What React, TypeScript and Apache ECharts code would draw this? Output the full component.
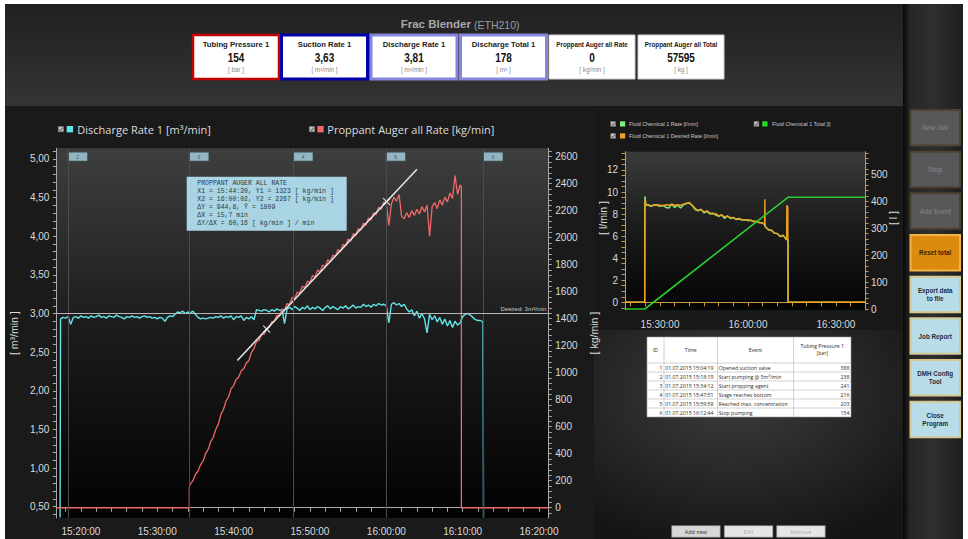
import React, { useEffect, useRef } from "react";
import * as echarts from "echarts";

// ---------------- helpers ----------------
const hms = (s: string): number => {
  const p = s.split(":").map(Number);
  return p[0] * 3600 + p[1] * 60 + (p[2] || 0);
};
const pad2 = (n: number) => (n < 10 ? "0" : "") + n;
const fmtHMS = (v: number) => {
  const t = Math.round(v);
  return pad2(Math.floor(t / 3600)) + ":" + pad2(Math.floor((t % 3600) / 60)) + ":" + pad2(t % 60);
};
const steps = (a: number, b: number, s: number) => {
  const out: number[] = [];
  for (let v = a; v <= b + 1e-9; v += s) out.push(Math.round(v * 1000) / 1000);
  return out;
};

// ---------------- data: main chart ----------------
const mainTimeRange = ["15:16:47", "16:21:13"];
const mainTimeLabels = ["15:20:00", "15:30:00", "15:40:00", "15:50:00", "16:00:00", "16:10:00", "16:20:00"];
const leftAxisRange = [0.354, 5.138];
const leftAxisLabels = [0.5, 1, 1.5, 2, 2.5, 3, 3.5, 4, 4.5, 5];
const rightAxisRange = [-76, 2662];
const rightAxisLabels = [0, 200, 400, 600, 800, 1000, 1200, 1400, 1600, 1800, 2000, 2200, 2400, 2600];

const stageLabels = ["2", "3", "4", "5", "6"];
const stageTimes = ["15:18:19", "15:34:12", "15:47:51", "15:59:58", "16:12:44"];

const sampleStepSec = 20;
const cyanStart = "15:17:20";
const cyanLead: [string, number][] = [["15:17:16", 0.36]];
const cyanValues = [
  2.93, 2.95,
  2.94, 2.96, 2.86, 2.95, 2.96, 2.94, 2.97, 2.95, 2.96, 2.94, 2.97, 2.95,
  2.96, 2.98, 2.95, 2.96, 2.94, 2.97, 2.96, 2.95, 2.98, 2.96, 2.95, 2.93,
  2.96, 2.95, 2.97, 2.95, 2.96, 2.94, 2.96, 2.97, 2.95, 2.96, 2.94, 2.95,
  2.93, 2.95, 2.94, 2.90, 2.95, 2.97, 2.96, 2.99, 3.02, 3.01, 3.03, 3.00,
  3.02, 3.01, 3.03, 2.99, 2.95, 2.93, 2.94, 2.93, 2.94, 2.95, 2.94, 2.96,
  2.95, 2.97, 2.94, 2.96, 2.95, 2.97, 2.92, 2.96, 2.95, 2.97, 2.91, 2.95,
  2.93, 2.96, 2.92, 3.05, 3.04, 3.03, 3.05, 3.04, 3.02, 3.05, 3.03, 3.06,
  3.04, 3.05, 2.87, 3.06, 3.08, 3.05, 3.09, 3.07, 3.04, 3.08, 3.06, 3.10,
  3.05, 3.08, 3.06, 3.09, 3.07, 3.04, 3.08, 3.10, 3.06, 3.09, 3.07, 3.05,
  3.09, 3.07, 3.10, 3.06, 3.08, 3.11, 3.07, 3.09, 3.08, 3.12, 3.09, 3.11,
  3.08, 3.12, 3.10, 3.13, 3.11, 3.12, 3.10, 2.88, 3.12, 3.14, 3.11, 3.13,
  3.09, 3.12, 3.06, 3.02, 3.05, 2.97, 3.03, 2.94, 3.00, 2.93, 2.75, 2.99,
  2.92, 2.97, 2.89, 2.95, 2.86, 2.93, 2.84, 2.91, 2.82, 2.90, 2.85, 2.88,
  2.96, 2.99, 3.00, 2.98, 2.95, 2.92, 2.91, 2.91, 2.89,
];
const cyanTail: [string, number][] = [["16:12:44", 0.36]];

const redLead: [string, number][] = [["15:16:47", 0], ["15:34:12", 0], ["15:34:12", 155]];
const redStart = "15:34:20";
const redValues = [
  175, 200, 248, 270, 318, 345, 402, 432, 490, 522,
  580, 620, 690, 728, 790, 820, 880, 905, 950, 968,
  1015, 1030, 1072, 1090, 1150, 1180, 1232, 1240, 1282, 1285,
  1325, 1336, 1378, 1380, 1425, 1422, 1470, 1465, 1512, 1505,
  1558, 1548, 1596, 1590, 1640, 1630, 1678, 1668, 1720, 1708,
  1760, 1748, 1798, 1785, 1836, 1822, 1872, 1860, 1912, 1898,
  1950, 1940, 1990, 1975, 2030, 2016, 2068, 2055, 2108, 2094,
  2146, 2132, 2185, 2172, 2225, 2210, 2262, 2255, 2090, 2250,
  2300, 2270, 2320, 2160, 2140, 2185, 2150, 2200, 2165, 2210,
  2175, 2230, 2190, 2240, 2010, 2230, 2260, 2215, 2280, 2240,
  2300, 2265, 2330, 2290, 2460, 2320, 2390,
];
const redTail: [string, number][] = [["16:09:50", 2380], ["16:09:50", 0], ["16:21:13", 0]];

const fitTimes = ["15:40:29", "16:04:01"];
const fitValues = [1091, 2507];
const cursorTimes = ["15:44:20", "16:00:02"];
const cursorValues = [1323, 2267];
const desiredRate = 3.0;

const annotationLines = [
  "PROPPANT AUGER ALL RATE",
  "X1 = 15:44:20, Y1 = 1323 [ kg/min ]",
  "X2 = 16:00:02, Y2 = 2267 [ kg/min ]",
  "\u0394Y = 944,8, \u0232 = 1809",
  "\u0394X = 15,7 min",
  "\u0394Y/\u0394X = 60,16 [ kg/min ] / min",
];

// ---------------- data: right chart ----------------
const rcTimeRange = ["15:18:03", "16:39:54"];
const rcTimeLabels = ["15:30:00", "16:00:00", "16:30:00"];
const rcLeftRange = [-0.7, 13.66];
const rcLeftLabels = [0, 2, 4, 6, 8, 10, 12];
const rcRightRange = [-3.7, 584];
const rcRightLabels = [0, 100, 200, 300, 400, 500];

const rcRateData: [string, number][] = [
  ["15:18:03", 0], ["15:24:46", 0], ["15:24:47", 2.6], ["15:24:50", 2.6], ["15:24:51", 9.6], ["15:25:10", 8.9],
  ["15:26:00", 8.8], ["15:27:00", 8.7], ["15:28:00", 8.85], ["15:29:00", 8.8], ["15:30:00", 8.7], ["15:31:00", 8.8],
  ["15:32:00", 8.6], ["15:33:00", 8.55], ["15:34:00", 8.9], ["15:35:00", 8.6], ["15:36:00", 8.8], ["15:37:00", 8.55],
  ["15:38:00", 8.85], ["15:39:00", 8.95], ["15:40:00", 9.0], ["15:41:00", 8.75], ["15:42:00", 8.4], ["15:43:00", 8.3],
  ["15:44:00", 8.45], ["15:45:00", 8.1], ["15:46:00", 8.25], ["15:47:00", 8.0], ["15:48:00", 8.1], ["15:49:00", 7.9],
  ["15:50:00", 7.8], ["15:51:00", 7.95], ["15:52:00", 7.6], ["15:53:00", 7.85], ["15:54:00", 7.6], ["15:55:00", 7.7],
  ["15:56:00", 7.5], ["15:57:00", 7.55], ["15:58:00", 7.45], ["15:59:00", 7.5], ["16:00:00", 7.4], ["16:01:00", 7.45],
  ["16:02:00", 7.3], ["16:03:00", 7.35], ["16:04:00", 7.2], ["16:05:00", 7.2], ["16:05:40", 7.05], ["16:05:50", 6.9],
  ["16:06:00", 6.85], ["16:07:00", 6.55], ["16:08:00", 6.55], ["16:09:00", 6.25], ["16:10:00", 6.25], ["16:11:00", 5.95],
  ["16:12:00", 6.1], ["16:12:50", 5.75], ["16:13:00", 5.7], ["16:13:40", 5.7], ["16:13:41", 0], ["16:39:54", 0],
];
const rcDesiredData: [string, number][] = [
  ["15:18:03", 0], ["15:24:46", 0], ["15:24:47", 2.7], ["15:24:50", 2.7], ["15:24:51", 9.3], ["15:25:10", 8.8],
  ["15:26:00", 8.85], ["15:27:00", 8.75], ["15:28:00", 8.8], ["15:29:00", 8.85], ["15:30:00", 8.8], ["15:31:00", 8.75],
  ["15:32:00", 8.85], ["15:33:00", 8.8], ["15:34:00", 8.9], ["15:35:00", 8.8], ["15:36:00", 8.85], ["15:37:00", 8.8],
  ["15:38:00", 8.9], ["15:39:00", 9.0], ["15:40:00", 9.05], ["15:41:00", 8.8], ["15:42:00", 8.5], ["15:43:00", 8.35],
  ["15:44:00", 8.4], ["15:45:00", 8.2], ["15:46:00", 8.3], ["15:47:00", 8.1], ["15:48:00", 8.0], ["15:49:00", 8.05],
  ["15:50:00", 7.85], ["15:51:00", 7.9], ["15:52:00", 7.75], ["15:53:00", 7.8], ["15:54:00", 7.7], ["15:55:00", 7.65],
  ["15:56:00", 7.55], ["15:57:00", 7.6], ["15:58:00", 7.5], ["15:59:00", 7.45], ["16:00:00", 7.5], ["16:01:00", 7.4],
  ["16:02:00", 7.35], ["16:03:00", 7.3], ["16:04:00", 7.25], ["16:05:00", 7.15], ["16:05:40", 7.1], ["16:05:45", 9.35],
  ["16:05:50", 7.0], ["16:06:00", 6.8], ["16:07:00", 6.6], ["16:08:00", 6.5], ["16:09:00", 6.3], ["16:10:00", 6.2],
  ["16:11:00", 6.0], ["16:12:00", 6.05], ["16:12:50", 5.8], ["16:13:10", 5.7], ["16:13:15", 8.8], ["16:13:35", 8.6],
  ["16:13:40", 0], ["16:39:54", 0],
];
const rcTotalData: [string, number][] = [
  ["15:18:03", 0], ["15:24:50", 0], ["16:00:40", 305], ["16:13:45", 415], ["16:39:54", 415],
];

// ---------------- data: header, table, buttons ----------------
const headerLabels = ["Tubing Pressure 1", "Suction Rate 1", "Discharge Rate 1", "Discharge Total 1", "Proppant Auger all Rate", "Proppant Auger all Total"];
const headerValues = ["154", "3,63", "3,81", "178", "0", "57595"];
const headerUnits = ["[ bar ]", "[ m\u00b3/min ]", "[ m\u00b3/min ]", "[ m\u00b3 ]", "[ kg/min ]", "[ kg ]"];

const eventIds = [1, 2, 3, 4, 5, 6];
const eventTimes = ["01.07.2015 15:04:19", "01.07.2015 15:18:19", "01.07.2015 15:34:12", "01.07.2015 15:47:51", "01.07.2015 15:59:58", "01.07.2015 16:12:44"];
const eventNames = ["Opened suction valve", "Start pumping @ 3m\u00b3/min", "Start propping agent", "Stage reaches bottom", "Reached max. concentration", "Stop pumping"];
const eventPressures = [388, 238, 241, 216, 203, 154];

const sideButtons = ["New Job", "Stop", "Add Event", "Reset total", "Export data\nto file", "Job Report", "DMH Config\nTool", "Close\nProgram"];
const tableButtons = ["Add new", "Edit", "Remove"];

// ---------------- styling ----------------
const FONT = "'Liberation Sans', Arial, sans-serif";
const UIFONT = "'Open Sans', 'Liberation Sans', sans-serif";
const MONO = "'Liberation Mono', 'DejaVu Sans Mono', monospace";

const rect = (x: number, y: number, w: number, h: number, style: any, z = 0, r = 0) => ({
  type: "rect", silent: true, z, shape: { x, y, width: w, height: h, r }, style,
});
const text = (x: number, y: number, t: string, o: any = {}) => ({
  type: "text", silent: true, z: o.z ?? 20, x, y,
  scaleX: o.scaleX ?? 1, rotation: o.rotation ?? 0,
  style: {
    text: t, fill: o.fill ?? "#ddd", fontSize: o.size ?? 10, fontFamily: o.family ?? FONT,
    fontWeight: o.weight ?? "normal", align: o.align ?? "left", verticalAlign: o.va ?? "middle",
    textAlign: o.align ?? "left", textVerticalAlign: o.va ?? "middle", lineHeight: o.lh,
  },
});

function buildOption() {
  const G: any[] = [];
  // backgrounds
  G.push(rect(5, 4, 958, 535, { fill: "#1b1b1b" }, -20));
  G.push(rect(5, 4, 898, 102, { fill: new echarts.graphic.LinearGradient(0, 0, 0, 1, [{ offset: 0, color: "#202020" }, { offset: 1, color: "#343434" }]) }, -19));
  G.push(rect(5, 106, 588, 433, { fill: "#1a1a1a" }, -19));
  G.push(rect(594, 106, 308, 224, { fill: "#181818" }, -19));
  G.push(rect(594, 330, 308, 209, { fill: new echarts.graphic.RadialGradient(0.45, 0.3, 0.75, [{ offset: 0, color: "#3d3d3d" }, { offset: 1, color: "#151515" }]) }, -19));
  G.push(rect(903, 4, 60, 535, { fill: new echarts.graphic.LinearGradient(0, 0, 1, 0, [{ offset: 0, color: "#080808" }, { offset: 0.12, color: "#262626" }, { offset: 0.5, color: "#2f2f2f" }, { offset: 1, color: "#1e1e1e" }]) }, -19));

  // title
  G.push(text(471, 24, "Frac Blender", { size: 11.5, weight: "bold", fill: "#a8a8a8", align: "right" }));
  G.push(text(474, 24.5, "(ETH210)", { size: 10.5, fill: "#9c9c9c" }));

  // header boxes
  const bx = [193, 281.5, 371, 460.5, 549, 638];
  const bStroke = ["#c40000", "#0000a8", "#8585dc", "#8585dc", "#cfcfcf", "#cfcfcf"];
  const bLw = [2.5, 3, 3, 3, 1, 1];
  headerLabels.forEach((lab, i) => {
    const x = bx[i];
    G.push(rect(x, 35, 86, 44, { fill: "#ffffff", stroke: bStroke[i], lineWidth: bLw[i] }, 5));
    const small = i >= 4;
    G.push(text(x + 43, 44.5, lab, { size: small ? 6.3 : 7.7, weight: "bold", fill: "#1a1a1a", align: "center" }));
    G.push(text(x + 43, 57.5, headerValues[i], { size: 12.5, weight: "bold", fill: "#111", align: "center", scaleX: 0.8 }));
    G.push(text(x + 43, 69, headerUnits[i], { size: 6.3, fill: "#8a8a8a", align: "center" }));
  });

  // main legend
  const check = (x: number, y: number, s: number) => {
    G.push(rect(x, y, s, s, { fill: "#c4c4c4", stroke: "#7a7a7a", lineWidth: 0.6 }, 5));
    G.push({ type: "polyline", silent: true, z: 6, shape: { points: [[x + s * 0.2, y + s * 0.55], [x + s * 0.45, y + s * 0.8], [x + s * 0.85, y + s * 0.2]] }, style: { stroke: "#333", lineWidth: 0.8, fill: "none" } });
  };
  check(58.3, 126.5, 5.2);
  G.push(rect(66.7, 126, 6.4, 6.4, { fill: "#60e4e8" }, 5));
  G.push(text(77.3, 129, "Discharge Rate 1 [m\u00b3/min]", { size: 11, family: UIFONT, fill: "#dcdcdc" }));
  check(309.3, 126.5, 5.2);
  G.push(rect(317.3, 126, 6.4, 6.4, { fill: "#f06868" }, 5));
  G.push(text(327.3, 129, "Proppant Auger all Rate [kg/min]", { size: 11, family: UIFONT, fill: "#dcdcdc" }));

  // annotation box
  G.push(rect(186.7, 176.7, 160, 54, { fill: "#a9d4e4" }, 30));
  G.push(text(197.3, 179.3, annotationLines.join("\n"), { size: 6.5, family: MONO, fill: "#2c3a42", va: "top", lh: 8, z: 31 }));

  // right chart legend
  check(610.7, 121.5, 4.8);
  G.push(rect(620, 121.3, 5.2, 5.2, { fill: "#7ef07e" }, 5));
  G.push(text(629, 124, "Fluid Chemical 1 Rate [l/min]", { size: 5.4, fill: "#c8c8c8" }));
  check(754, 121.5, 4.8);
  G.push(rect(762.3, 121.3, 5.2, 5.2, { fill: "#22dd22" }, 5));
  G.push(text(772, 124, "Fluid Chemical 1 Total [l]", { size: 5.4, fill: "#c8c8c8" }));
  check(610.7, 133.5, 4.8);
  G.push(rect(620, 133.3, 5.2, 5.2, { fill: "#f0a020" }, 5));
  G.push(text(629, 136, "Fluid Chemical 1 Desired Rate [l/min]", { size: 5.4, fill: "#c8c8c8" }));
  G.push(text(603.3, 218, "[ l/min ]", { size: 10.5, fill: "#dcdcdc", align: "center", rotation: Math.PI / 2 }));
  G.push(text(893, 218, "[ l ]", { size: 10.5, fill: "#dcdcdc", align: "center", rotation: Math.PI / 2 }));

  // table
  const cols = [647, 664, 717.5, 793.5, 851];
  const tTop = 337, hdrBottom = 363, rowH = 9;
  const tBottom = hdrBottom + rowH * eventIds.length;
  G.push(rect(cols[0], tTop, cols[4] - cols[0], tBottom - tTop, { fill: "#ffffff", stroke: "#9a9a9a", lineWidth: 0.6 }, 5));
  cols.slice(1, 4).forEach((cx) => G.push({ type: "line", silent: true, z: 6, shape: { x1: cx, y1: tTop, x2: cx, y2: tBottom }, style: { stroke: "#b4b4b4", lineWidth: 0.6 } }));
  for (let r = 0; r < eventIds.length; r++) {
    const y = hdrBottom + rowH * r;
    G.push({ type: "line", silent: true, z: 6, shape: { x1: cols[0], y1: y, x2: cols[4], y2: y }, style: { stroke: "#b4b4b4", lineWidth: 0.6 } });
  }
  const tf = { size: 5.2, family: UIFONT, fill: "#2a2a2a" };
  G.push(text((cols[0] + cols[1]) / 2, 350, "ID", { ...tf, align: "center" }));
  G.push(text((cols[1] + cols[2]) / 2, 350, "Time", { ...tf, align: "center" }));
  G.push(text((cols[2] + cols[3]) / 2, 350, "Event", { ...tf, align: "center" }));
  G.push(text((cols[3] + cols[4]) / 2, 349.5, "Tubing Pressure 1\n[bar]", { ...tf, align: "center", lh: 6.5 }));
  eventIds.forEach((id, r) => {
    const cy = hdrBottom + rowH * r + 4.7;
    G.push(text(cols[1] - 1.5, cy, String(id), { ...tf, align: "right" }));
    G.push(text(cols[1] + 1.2, cy, eventTimes[r], tf));
    G.push(text(cols[2] + 1.2, cy, eventNames[r], tf));
    G.push(text(cols[4] - 1.5, cy, String(eventPressures[r]), { ...tf, align: "right" }));
  });
  // table buttons
  const tbx = [671.7, 724.3, 776.7];
  tableButtons.forEach((b, i) => {
    G.push(rect(tbx[i], 525.7, 48.5, 11.5, { fill: i === 0 ? "#d6d6d6" : "#e6e6e6", stroke: "#8e8e8e", lineWidth: 0.6 }, 5));
    G.push(text(tbx[i] + 24.25, 531.5, b, { size: 5.5, family: UIFONT, fill: i === 0 ? "#333" : "#ababab", align: "center" }));
  });

  // side buttons
  const sTops = [110, 151.7, 193.3, 235, 276.7, 318.3, 360, 401.7];
  sideButtons.forEach((b, i) => {
    const kind = i < 3 ? "off" : i === 3 ? "orange" : "blue";
    const fill = kind === "off" ? "#585858" : kind === "orange" ? "#db8b0e" : "#b9dce9";
    const stroke = kind === "off" ? "#4d4130" : kind === "orange" ? "#f2b347" : "#d6c891";
    const tc = kind === "off" ? "#7c7c7c" : kind === "orange" ? "#3a2200" : "#1e2c3c";
    G.push(rect(910.5, sTops[i], 49.5, 35.5, { fill, stroke, lineWidth: 2 }, 5));
    G.push(text(935.2, sTops[i] + 17.8, b, { size: 6.3, weight: "bold", fill: tc, align: "center", lh: 8 }));
  });

  const axisCol = "#a9a9a9";
  const rcAxisCol = "#c89a48";
  const lbl = { color: "#dadada", fontSize: 10, fontFamily: FONT };
  const plain = (v: number) => String(v);

  const cyanData = [
    ...cyanLead.map(([t, v]) => [hms(t), v]),
    ...cyanValues.map((v, i) => [hms(cyanStart) + i * sampleStepSec, v]),
    ...cyanTail.map(([t, v]) => [hms(t), v]),
  ];
  const redData = [
    ...redLead.map(([t, v]) => [hms(t), v]),
    ...redValues.map((v, i) => [hms(redStart) + i * sampleStepSec, v]),
    ...redTail.map(([t, v]) => [hms(t), v]),
  ];
  const conv = (arr: [string, number][]) => arr.map(([t, v]) => [hms(t), v]);

  const lineBase = { type: "line", showSymbol: false, symbol: "none", animation: false, silent: true };

  return {
    animation: false,
    backgroundColor: "#ffffff",
    grid: [
      {
        left: 52.7, top: 148.3, width: 495.6, height: 369.7, show: true, borderWidth: 0,
        backgroundColor: new echarts.graphic.LinearGradient(0, 0, 0, 1, [{ offset: 0, color: "#3e3e3e" }, { offset: 0.5, color: "#1b1b1b" }, { offset: 1, color: "#020202" }]),
      },
      {
        left: 625, top: 151.7, width: 240, height: 158.3, show: true, borderWidth: 0,
        backgroundColor: new echarts.graphic.LinearGradient(0, 0, 0, 1, [{ offset: 0, color: "#3a3a3a" }, { offset: 0.5, color: "#1a1a1a" }, { offset: 1, color: "#040404" }]),
      },
    ],
    xAxis: [
      {
        type: "value", gridIndex: 0, min: hms(mainTimeRange[0]), max: hms(mainTimeRange[1]),
        axisLine: { show: true, lineStyle: { color: axisCol } },
        axisTick: { show: true, customValues: steps(hms("15:18:00"), hms("16:20:00"), 120), length: 4, lineStyle: { color: axisCol } },
        axisLabel: { show: true, customValues: mainTimeLabels.map(hms), formatter: (v: number) => fmtHMS(v), margin: 8, ...lbl },
        splitLine: { show: false },
      },
      {
        type: "value", gridIndex: 1, min: hms(rcTimeRange[0]), max: hms(rcTimeRange[1]),
        axisLine: { show: true, lineStyle: { color: rcAxisCol } },
        axisTick: { show: true, customValues: steps(hms("15:20:00"), hms("16:35:00"), 300), length: 4, lineStyle: { color: rcAxisCol } },
        axisLabel: { show: true, customValues: rcTimeLabels.map(hms), formatter: (v: number) => fmtHMS(v), margin: 9, ...lbl },
        splitLine: { show: false },
      },
    ],
    yAxis: [
      {
        type: "value", gridIndex: 0, position: "left", min: leftAxisRange[0], max: leftAxisRange[1],
        axisLine: { show: true, lineStyle: { color: axisCol } },
        axisTick: { show: true, customValues: steps(0.4, 5.1, 0.1), length: 3.5, lineStyle: { color: axisCol } },
        axisLabel: { show: true, customValues: leftAxisLabels, formatter: (v: number) => v.toFixed(2).replace(".", ","), margin: 7, ...lbl },
        splitLine: { show: false },
        name: "[ m\u00b3/min ]", nameLocation: "middle", nameGap: 31, nameRotate: 90,
        nameTextStyle: { color: "#dcdcdc", fontSize: 10.5, fontFamily: FONT },
      },
      {
        type: "value", gridIndex: 0, position: "right", min: rightAxisRange[0], max: rightAxisRange[1],
        axisLine: { show: true, lineStyle: { color: axisCol } },
        axisTick: { show: true, customValues: steps(-40, 2640, 40), length: 3.5, lineStyle: { color: axisCol } },
        axisLabel: { show: true, customValues: rightAxisLabels, formatter: plain, margin: 7, ...lbl },
        splitLine: { show: false },
        name: "[ kg/min ]", nameLocation: "middle", nameGap: 38, nameRotate: 90,
        nameTextStyle: { color: "#dcdcdc", fontSize: 10.5, fontFamily: FONT },
      },
      {
        type: "value", gridIndex: 1, position: "left", min: rcLeftRange[0], max: rcLeftRange[1],
        axisLine: { show: true, lineStyle: { color: rcAxisCol } },
        axisTick: { show: true, customValues: steps(-0.5, 13.5, 0.5), length: 3.5, lineStyle: { color: rcAxisCol } },
        axisLabel: { show: true, customValues: rcLeftLabels, formatter: plain, margin: 7, ...lbl },
        splitLine: { show: false },
      },
      {
        type: "value", gridIndex: 1, position: "right", min: rcRightRange[0], max: rcRightRange[1],
        axisLine: { show: true, lineStyle: { color: rcAxisCol } },
        axisTick: { show: true, customValues: steps(0, 580, 20), length: 3.5, lineStyle: { color: rcAxisCol } },
        axisLabel: { show: true, customValues: rcRightLabels, formatter: plain, margin: 6, ...lbl },
        splitLine: { show: false },
      },
    ],
    series: [
      {
        type: "scatter", xAxisIndex: 0, yAxisIndex: 0, z: 1, silent: true, clip: false, animation: false,
        data: stageTimes.map((t, i) => ({ value: [hms(t), leftAxisRange[1]], name: stageLabels[i] })),
        symbol: "rect", symbolSize: [19, 8], symbolOffset: [9.5, 8.4],
        itemStyle: { color: "#a9d4e4", borderColor: "#7fb0c4", borderWidth: 0.5 },
        label: { show: true, position: "inside", formatter: "{b}", fontSize: 5, color: "#2a3a44", fontFamily: FONT },
        markLine: {
          silent: true, animation: false, symbol: ["none", "none"], label: { show: false },
          lineStyle: { color: "#4c4c4c", width: 1, type: "solid" },
          data: stageTimes.map((t) => ({ xAxis: hms(t) })),
        },
      },
      {
        ...lineBase, name: "Discharge Rate 1", xAxisIndex: 0, yAxisIndex: 0, z: 2,
        data: cyanData, lineStyle: { color: "#60e4e8", width: 1.4 }, itemStyle: { color: "#60e4e8" },
        markLine: {
          silent: true, animation: false, symbol: ["none", "none"],
          data: [{ yAxis: desiredRate }],
          lineStyle: { color: "#b8b8b8", width: 1, type: "solid" },
          label: { show: true, position: "insideEndTop", formatter: "Desired: 3m\u00b3/min", fontSize: 6, color: "#cfcfcf", distance: 2, fontFamily: FONT },
        },
      },
      {
        ...lineBase, name: "Proppant Auger all Rate", xAxisIndex: 0, yAxisIndex: 1, z: 3,
        data: redData, lineStyle: { color: "#f06868", width: 1.3 }, itemStyle: { color: "#f06868" },
      },
      {
        ...lineBase, name: "fit", xAxisIndex: 0, yAxisIndex: 1, z: 4,
        data: fitTimes.map((t, i) => [hms(t), fitValues[i]]), lineStyle: { color: "#e6e6e6", width: 1.5 },
      },
      {
        type: "scatter", xAxisIndex: 0, yAxisIndex: 1, z: 5, silent: true, animation: false,
        data: cursorTimes.map((t, i) => [hms(t), cursorValues[i]]),
        symbol: "path://M0,0L10,10M10,0L0,10", symbolSize: 7,
        itemStyle: { color: "rgba(0,0,0,0)", borderColor: "#ffffff", borderWidth: 1.3 },
      },
      {
        ...lineBase, name: "Fluid Chemical 1 Rate", xAxisIndex: 1, yAxisIndex: 2, z: 2,
        data: conv(rcRateData), lineStyle: { color: "#7ef07e", width: 1.4 },
      },
      {
        ...lineBase, name: "Fluid Chemical 1 Desired Rate", xAxisIndex: 1, yAxisIndex: 2, z: 3,
        data: conv(rcDesiredData), lineStyle: { color: "#f0a020", width: 1.4 },
      },
      {
        ...lineBase, name: "Fluid Chemical 1 Total", xAxisIndex: 1, yAxisIndex: 3, z: 4,
        data: conv(rcTotalData), lineStyle: { color: "#2ccc2c", width: 1.6 },
      },
    ],
    graphic: { elements: G },
  };
}

export default function App() {
  const ref = useRef<HTMLDivElement>(null);
  useEffect(() => {
    const chart = echarts.init(ref.current!, undefined, { renderer: "svg" });
    chart.setOption(buildOption() as any);
    return () => chart.dispose();
  }, []);
  return <div ref={ref} style={{ position: "absolute", left: 0, top: 0, width: 968, height: 539 }} />;
}
